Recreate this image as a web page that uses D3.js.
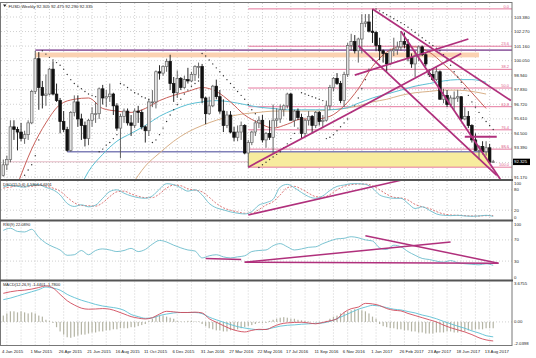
<!DOCTYPE html>
<html><head><meta charset="utf-8">
<script src="https://cdn.jsdelivr.net/npm/d3@7"></script>
<style>body{margin:0;background:#fff}svg{display:block}text{font-family:"Liberation Sans",Arial,sans-serif}</style>
</head><body><svg id="c" width="536" height="358"></svg>
<script>
// ---------------- DATA ----------------
const title = "FUSD,Weekly  92.305 92.475 92.290 92.335";
const openP = [91.3,92.1,92.5,95.0,94.8,94.6,94.1,94.4,95.3,97.7,
100.2,98.0,97.4,97.5,99.4,97.5,97.0,95.4,94.8,93.2,
96.1,96.9,95.6,95.1,94.1,95.5,96.0,96.0,97.9,97.2,
97.3,97.5,96.6,94.9,95.8,96.2,95.3,95.1,96.2,96.1,
95.0,94.7,96.9,96.9,99.2,99.1,99.6,100.0,98.3,97.6,
98.7,98.0,98.6,98.5,99.0,99.6,99.6,97.2,96.0,96.6,
98.1,97.3,96.2,95.1,95.9,94.6,94.2,94.6,95.1,93.0,
93.8,94.6,95.3,95.5,94.0,94.5,94.2,95.5,95.6,96.3,
96.6,97.5,95.5,96.2,95.7,94.5,95.5,95.8,95.1,96.1,
95.4,95.5,96.6,98.0,98.7,98.3,97.0,99.0,101.2,101.5,
100.8,101.7,102.9,103.0,102.3,102.2,101.2,100.8,100.6,99.8,
100.8,100.9,101.1,101.5,101.3,100.3,99.8,100.4,101.1,100.5,
99.1,99.0,98.6,99.2,97.1,97.4,96.7,97.2,97.2,97.3,
95.6,95.8,95.1,94.0,93.2,93.5,93.1,93.4,92.305];
const highP = [92.5,92.8,95.5,95.5,95.0,95.3,94.7,95.5,97.8,100.8,
100.7,98.5,99.0,99.5,100.0,98.3,97.2,96.2,95.0,96.2,
97.4,97.4,96.0,95.4,95.6,96.5,96.9,98.0,98.2,97.8,
98.3,97.6,96.8,96.0,96.4,96.4,95.9,96.4,96.6,96.3,
95.1,97.1,97.8,99.3,99.7,99.7,100.2,100.5,98.8,99.3,
98.8,98.9,99.5,99.2,99.7,99.9,99.8,97.3,97.3,98.2,
98.6,97.8,97.1,96.2,96.2,95.0,95.1,95.4,95.2,94.0,
94.7,95.5,95.8,95.9,94.6,95.5,96.7,96.4,96.7,96.7,
97.6,97.6,96.3,96.4,96.0,95.6,96.2,95.9,96.2,96.2,
95.9,97.0,98.2,98.8,99.1,98.5,99.2,101.4,102.1,102.0,
101.8,103.6,103.6,103.6,104.0,102.3,101.8,100.9,100.6,100.9,
101.8,101.5,102.3,102.2,101.7,100.6,100.8,101.2,101.2,100.7,
99.4,99.4,99.6,99.3,97.9,97.8,97.4,97.7,97.8,97.3,
96.5,96.2,95.2,94.5,93.6,93.9,93.9,93.7,92.475];
const lowP = [91.2,91.7,92.3,94.0,93.2,93.9,93.7,94.0,95.2,97.5,
96.3,96.4,96.6,97.4,97.4,96.9,94.5,94.6,93.1,93.1,
95.8,95.0,94.0,93.5,93.6,95.0,95.3,95.6,96.7,96.5,
96.9,95.9,94.7,92.6,95.3,95.1,94.3,94.9,95.3,94.8,
93.8,94.3,96.5,96.4,98.6,98.9,99.2,97.8,96.9,97.2,
97.8,97.9,98.3,98.4,98.5,98.7,96.8,95.2,95.9,96.5,
97.1,96.0,94.6,94.9,94.5,93.9,93.9,94.0,92.9,91.9,
93.6,94.3,94.9,93.8,93.4,94.0,93.0,95.0,95.3,95.8,
96.4,95.5,95.0,95.5,94.1,94.2,95.1,94.5,94.9,95.1,
94.9,95.4,96.3,97.7,98.2,96.8,96.5,98.8,100.8,100.6,
99.9,100.6,102.6,102.2,101.4,100.8,100.1,99.9,99.2,99.7,
100.4,100.5,100.8,101.0,100.0,99.5,98.8,100.0,100.4,99.6,
98.8,98.5,98.5,97.1,96.8,96.5,96.5,96.3,96.9,95.5,
95.5,94.9,93.8,93.2,92.5,92.9,92.8,92.3,92.29];
const closeP = [92.1,92.5,95.0,94.8,94.6,94.1,94.4,95.3,97.7,100.2,
98.0,97.4,97.5,99.4,97.5,97.0,95.4,94.8,93.2,96.1,
96.9,95.6,95.1,94.1,95.5,96.0,96.0,97.9,97.2,97.3,
97.5,96.6,94.9,95.8,96.2,95.3,95.1,96.2,96.1,95.0,
94.7,96.9,96.9,99.2,99.1,99.6,100.0,98.3,97.6,98.7,
98.0,98.6,98.5,99.0,99.6,99.6,97.2,96.0,96.6,98.1,
97.3,96.2,95.1,95.9,94.6,94.2,94.6,95.1,93.0,93.8,
94.6,95.3,95.5,94.0,94.5,94.2,95.5,95.6,96.3,96.6,
97.5,95.5,96.2,95.7,94.5,95.5,95.8,95.1,96.1,95.4,
95.5,96.6,98.0,98.7,98.3,97.0,99.0,101.2,101.5,100.8,
101.7,102.9,103.0,102.3,102.2,101.2,100.8,100.6,99.8,100.8,
100.9,101.1,101.5,101.3,100.3,99.8,100.4,101.1,100.5,99.8,
99.0,98.6,99.2,97.1,97.4,96.7,97.2,97.2,97.3,95.6,
95.8,95.1,94.0,93.2,93.5,93.1,93.4,92.3,92.335];
// parabolic SAR dots (one per week)
const sar = [88.5,88.9,89.3,89.9,90.4,90.9,91.3,91.7,92.1,92.8,94.0,
100.8,100.55,100.3,100.1,99.9,99.7,99.4,99.0,98.6,98.3,98.1,97.9,97.7,97.5,97.4,97.3,
93.1,93.3,93.6,93.8,94.1,94.4,
98.3,98.2,98.0,97.8,97.6,97.5,97.3,97.2,97.1,
93.8,94.0,94.4,94.9,95.4,95.9,96.3,96.7,97.1,97.5,97.8,98.1,98.3,98.5,
100.6,100.4,100.1,99.8,99.5,99.2,98.9,98.6,98.3,98.0,97.7,97.4,97.1,96.7,96.3,96.0,
91.9,92.1,92.3,92.5,92.7,92.9,93.1,93.4,93.7,94.1,94.5,94.9,
97.6,97.5,97.4,97.3,97.2,97.1,97.0,
94.1,94.2,94.4,94.7,95.0,95.3,95.6,96.1,96.6,97.2,97.9,98.6,99.4,100.1,
104.0,103.85,103.7,103.55,103.4,103.25,103.1,102.95,102.8,102.6,102.4,102.2,102.0,101.8,101.6,
101.4,101.2,101.0,100.8,100.5,100.1,99.7,99.2,98.8,98.4,97.9,97.4,96.9,96.5,96.1,95.7,95.4,95.1,94.8];
// moving averages, one value every 4 weeks
const maRed  = [87.5,90.6,93.3,95.3,96.7,97.1,97.2,96.4,96.2,96.1,96.4,97.0,97.4,97.7,98.0,97.7,96.9,95.9,95.3,94.9,95.2,95.6,95.6,95.8,96.6,97.9,99.6,100.7,101.1,101.1,100.7,99.8,98.8,97.6,96.4];
const maCyan = [82,84,85.5,87,88.3,89.5,91.6,92.9,93.9,94.5,95.1,95.8,96.3,96.7,96.9,97.0,96.9,96.7,96.5,96.4,96.3,96.3,96.3,96.3,96.4,96.8,97.2,97.5,97.8,98.1,98.3,98.5,98.6,98.6,98.4];
const maTan  = [80,81,82,83,84,85,86,87.5,89,90.5,92.0,93.0,93.9,94.6,95.1,95.5,95.8,96.0,96.1,96.2,96.2,96.2,96.2,96.3,96.4,96.6,96.9,97.1,97.4,97.6,97.7,97.8,97.8,97.7,97.5];
// oscillators, one value every 2 weeks
const stochK = [88,93,90,88,94,95,87,80,65,40,31,36,30,35,55,75,80,70,62,57,55,62,82,98,95,86,76,80,65,40,27,21,15,11,9,16,35,42,52,88,96,86,72,60,55,62,78,90,94,98,98,96,85,65,58,55,55,40,25,30,20,9,5,4,5,3,2,3,5,2];
const stochD = [85,88,91,89,90,93,91,85,76,58,42,34,33,32,42,60,74,76,68,61,57,57,68,85,94,92,83,79,74,58,40,27,20,15,11,11,22,35,45,65,86,90,82,70,60,58,66,80,90,95,97,97,92,80,67,58,56,50,37,30,25,16,9,6,5,4,3,3,4,4];
const rsi = [88,92,86,85,90,75,64,57,51,41,42,50,42,50,53,51,48,50,54,48,52,62,69,66,60,55,51,49,36,40,42,38,36,38,40,48,50,51,59,63,57,51,53,56,57,63,68,72,73,76,74,70,68,55,52,60,57,48,41,35,33,30,28,31,27,25,24,23,25,22];
const macdMain = [2.7,2.85,2.95,3.0,3.1,3.25,3.4,3.2,2.6,2.0,1.6,1.3,1.2,1.22,1.26,1.2,1.0,0.75,0.5,0.36,0.28,0.4,0.74,1.0,0.95,0.89,0.89,0.92,0.85,0.3,-0.03,-0.35,-0.65,-0.85,-0.95,-0.8,-0.7,-0.72,-0.45,-0.2,-0.09,-0.05,-0.03,-0.1,-0.18,-0.05,0.1,0.3,0.9,1.25,1.4,1.75,1.7,1.55,1.26,1.1,1.04,0.8,0.6,0.4,0.2,0.0,-0.3,-0.55,-0.75,-0.95,-1.2,-1.5,-1.7,-1.8];
const macdSignal = [2.1,2.25,2.45,2.65,2.85,3.05,3.3,3.2,3.0,2.6,2.3,2.05,1.85,1.65,1.5,1.4,1.3,1.1,0.7,0.5,0.34,0.38,0.6,0.74,0.85,0.89,0.89,0.89,0.78,0.45,0.2,-0.03,-0.25,-0.45,-0.58,-0.68,-0.74,-0.7,-0.55,-0.4,-0.32,-0.28,-0.22,-0.18,-0.14,-0.1,0.05,0.3,0.6,0.9,1.2,1.4,1.56,1.5,1.35,1.2,1.13,0.98,0.85,0.65,0.5,0.3,0.05,-0.18,-0.4,-0.6,-0.85,-1.05,-1.3,-1.41];
const macdHist = [0.6,0.8,1.0,1.0,0.9,1.0,0.9,0.8,0.9,0.8,0.6,0.5,
0.2,0.1,-0.1,
-0.5,-0.9,-1.2,-1.45,-1.5,-1.4,-1.3,-1.2,-1.2,-1.1,-1.0,
-1.0,-0.9,-0.9,-0.8,-0.8,-0.7,-0.7,-0.6,-0.6,-0.6,-0.5,-0.5,-0.4,-0.3,-0.2,
0.1,0.3,0.5,0.6,0.6,0.5,0.4,0.3,
0.1,0.05,0.05,0.1,0.1,0.05,0.05,-0.2,
-0.4,-0.6,-0.7,-0.8,-0.8,-0.9,-0.9,-0.8,-0.8,-0.7,-0.6,-0.5,-0.4,-0.3,-0.2,-0.1,-0.1,-0.1,
0.1,0.2,0.3,0.4,0.45,0.4,0.3,0.3,0.2,0.15,0.1,0.05,
0,-0.05,-0.05,0,0.1,
0.3,0.5,0.6,0.8,0.9,1.0,1.1,1.2,1.2,1.1,1.0,0.8,0.5,0.3,
-0.2,-0.4,-0.5,-0.6,-0.6,-0.7,-0.7,-0.8,-0.8,-0.9,-0.9,-1.0,-1.0,-1.1,-1.1,-1.1,-1.0,-1.0,-1.0,-0.9,-0.9,-1.0,-1.0,-0.9,-0.9,-0.8,-0.8,-0.7,-0.7,-0.7,-0.6,-0.6,-0.6];
// axis labels
const dateLabels = ["4 Jan 2015","1 Mar 2015","26 Apr 2015","21 Jun 2015","16 Aug 2015","11 Oct 2015","6 Dec 2015","31 Jan 2016","27 Mar 2016","22 May 2016","17 Jul 2016","11 Sep 2016","6 Nov 2016","1 Jan 2017","26 Feb 2017","23 Apr 2017","18 Jun 2017","13 Aug 2017"];
const priceTicks = [103.38,102.27,101.16,100.05,98.94,97.83,96.72,95.61,94.50,93.39,91.17];
const lastPrice = 92.325;
const stochTicks = [100,80,20,0], rsiTicks = [100,70,30,0], macdTicks = [3.6755,0,-2.0398];
const stochLabel = "DSO(15,5,6) 4.5304 6.6911", rsiLabel = "RSI(9) 22.0890", macdLabel = "MACD(12,26,9) -1.4401 -1.7800";
// drawn objects (week index, price)
const fibLevels = [0,23.6,38.2,50,61.8,76.4,88.6,100];
const fibHigh = 104.0, fibLow = 91.92, fibStartWeek = 69;
const resHigh = 100.85, resWeek = 9;
const bandTop = 100.67, bandBottom = 100.30, bandEndWeek = 134;
const supLevel = 93.10, supWeek = 18;
const zoneTop = 93.10, zoneBottom = 91.92, zoneEndWeek = 137;
const trendW1 = [69, 99, 104, 100, 112, 130], trendP1 = [91.92, 98.95, 104.0, 101.2, 102.3, 94.24];
const trendW2 = [129, 131, 143, 139, 140, 139], trendP2 = [100.6, 101.7, 97.0, 91.3, 91.0, 94.24];
const stochTrendW = [69, 112], stochTrendV = [6, 108];
const rsiTrendW1 = [57, 68, 102, 68], rsiTrendV1 = [35, 28, 78, 28];
const rsiTrendW2 = [67, 126, 139.5, 139.5], rsiTrendV2 = [33, 66, 26, 26];

// ---------------- SCALES ----------------
const svg = d3.select("#c");
const R = 512, FS = 4.3;
const x = d3.scaleLinear().domain([0, 138]).range([3.3, 493.2]);
const yP = d3.scaleLinear().domain([91.17, 103.38]).range([177, 17]);
const yS = d3.scaleLinear().domain([0, 100]).range([217, 183]);
const yR = d3.scaleLinear().domain([0, 100]).range([277, 224]);
const yM = d3.scaleLinear().domain([-2.0398, 3.6755]).range([343.5, 283]);
const panels = [[3,179],[181,219.5],[221.5,279.5],[281.5,345]];

const defs = svg.append("defs");
panels.forEach((p,i)=>defs.append("clipPath").attr("id","cp"+i).append("rect")
  .attr("x",1).attr("y",p[0]).attr("width",R-1).attr("height",p[1]-p[0]));
const g = panels.map((p,i)=>svg.append("g").attr("clip-path",`url(#cp${i})`));

// grid
const gridWeeks = d3.range(1, 139, 4);
panels.forEach((p,i)=>{
  g[i].selectAll(null).data(gridWeeks).join("line")
    .attr("x1",d=>x(d)).attr("x2",d=>x(d)).attr("y1",p[0]).attr("y2",p[1])
    .attr("stroke","#c4c4c4").attr("stroke-width",0.8).attr("stroke-dasharray","1,2");
});
const hgrid = (gi, ys) => g[gi].selectAll(null).data(ys).join("line")
  .attr("x1",1).attr("x2",R).attr("y1",d=>d).attr("y2",d=>d)
  .attr("stroke","#c4c4c4").attr("stroke-width",0.8).attr("stroke-dasharray","1,2");
hgrid(0, priceTicks.map(yP).concat([yP(92.28)]));
hgrid(1, [80,20].map(yS));
hgrid(2, [70,30].map(yR));
hgrid(3, [yM(0)]);

// ---------------- MAIN PANEL ----------------
const m = g[0];
m.append("rect").attr("x",x(fibStartWeek)).attr("width",x(zoneEndWeek)-x(fibStartWeek))
  .attr("y",yP(zoneTop)).attr("height",yP(zoneBottom)-yP(zoneTop)).attr("fill","#f7ec9e");
m.append("rect").attr("x",x(resWeek)).attr("width",x(bandEndWeek)-x(resWeek))
  .attr("y",yP(bandTop)).attr("height",yP(bandBottom)-yP(bandTop)).attr("fill","#fbd2b2");
m.append("line").attr("x1",x(resWeek)).attr("x2",R).attr("y1",yP(resHigh)).attr("y2",yP(resHigh))
  .attr("stroke","#9a6aa8").attr("stroke-width",1.6);
m.append("line").attr("x1",x(supWeek)).attr("x2",x(zoneEndWeek)).attr("y1",yP(supLevel)).attr("y2",yP(supLevel))
  .attr("stroke","#8080b8").attr("stroke-width",1.4);
m.append("line").attr("x1",x(1)).attr("x2",x(fibStartWeek)).attr("y1",yP(92.33)).attr("y2",yP(92.33))
  .attr("stroke","#e4b8c4").attr("stroke-width",1);
const fibPrice = fibLevels.map(l=>fibHigh - l/100*(fibHigh-fibLow));
m.selectAll(null).data(fibPrice).join("line")
  .attr("x1",x(fibStartWeek)).attr("x2",R).attr("y1",d=>yP(d)).attr("y2",d=>yP(d))
  .attr("stroke","#e6789e").attr("stroke-width",1);
m.selectAll(null).data(fibLevels).join("text")
  .attr("x",R-3).attr("y",(d,i)=>yP(fibPrice[i])-1).attr("text-anchor","end")
  .attr("font-size",4).attr("fill","#e0608a").text(d=>d.toFixed(1));

const ma = (arr,col)=>m.append("path").datum(arr).attr("fill","none").attr("stroke",col).attr("stroke-width",1)
  .attr("d",d3.line().x((d,i)=>x(i*4)).y(d=>yP(d)).curve(d3.curveMonotoneX));
ma(maTan,"#d8b088"); ma(maCyan,"#5cc0d4"); ma(maRed,"#c8605a");

const idx = d3.range(openP.length);
m.selectAll(null).data(idx).join("line")
  .attr("x1",i=>x(i)).attr("x2",i=>x(i)).attr("y1",i=>yP(highP[i])).attr("y2",i=>yP(lowP[i]))
  .attr("stroke",i=>closeP[i]>=openP[i]?"#555":"#111").attr("stroke-width",0.9);
m.selectAll(null).data(idx).join("rect")
  .attr("x",i=>x(i)-1.3).attr("width",2.6)
  .attr("y",i=>yP(Math.max(openP[i],closeP[i])))
  .attr("height",i=>Math.max(0.8,Math.abs(yP(openP[i])-yP(closeP[i]))))
  .attr("fill",i=>closeP[i]>=openP[i]?"#e2e2e2":"#111")
  .attr("stroke",i=>closeP[i]>=openP[i]?"#666":"#111").attr("stroke-width",0.7);
m.selectAll(null).data(idx).join("circle")
  .attr("cx",i=>x(i)).attr("cy",i=>yP(sar[i])).attr("r",0.7).attr("fill","#333");
m.selectAll(null).data(d3.range(trendW1.length)).join("line")
  .attr("x1",i=>x(trendW1[i])).attr("y1",i=>yP(trendP1[i]))
  .attr("x2",i=>x(trendW2[i])).attr("y2",i=>yP(trendP2[i]))
  .attr("stroke","#b0307c").attr("stroke-width",1.8);

// ---------------- STOCH ----------------
const osc = (gg, arr, ys, col, dash) => gg.append("path").datum(arr).attr("fill","none")
  .attr("stroke",col).attr("stroke-width",0.9).attr("stroke-dasharray",dash||null)
  .attr("d",d3.line().x((d,i)=>x(i*2)).y(d=>ys(d)).curve(d3.curveMonotoneX));
osc(g[1], stochD, yS, "#d86868", "2,1.5");
osc(g[1], stochK, yS, "#6cbccc");
g[1].append("line").attr("x1",x(stochTrendW[0])).attr("y1",yS(stochTrendV[0]))
  .attr("x2",x(stochTrendW[1])).attr("y2",yS(stochTrendV[1])).attr("stroke","#b0307c").attr("stroke-width",1.6);

// ---------------- RSI ----------------
osc(g[2], rsi, yR, "#6cbccc");
g[2].selectAll(null).data(d3.range(rsiTrendW1.length)).join("line")
  .attr("x1",i=>x(rsiTrendW1[i])).attr("y1",i=>yR(rsiTrendV1[i]))
  .attr("x2",i=>x(rsiTrendW2[i])).attr("y2",i=>yR(rsiTrendV2[i]))
  .attr("stroke","#b0307c").attr("stroke-width",1.5);

// ---------------- MACD ----------------
g[3].selectAll(null).data(idx).join("rect")
  .attr("x",i=>x(i)-0.6).attr("width",1.2)
  .attr("y",i=>Math.min(yM(0),yM(macdHist[i]))).attr("height",i=>Math.abs(yM(macdHist[i])-yM(0)))
  .attr("fill","#b4b4a4");
osc(g[3], macdSignal, yM, "#5cc0d4");
osc(g[3], macdMain, yM, "#d04a5a");

// ---------------- FRAME & LABELS ----------------
svg.append("rect").attr("x",0.5).attr("y",2.5).attr("width",R-0.5).attr("height",343).attr("fill","none").attr("stroke","#777").attr("stroke-width",1);
[180, 220.5, 280.5].forEach(yy=>svg.append("line").attr("x1",0).attr("x2",R+1).attr("y1",yy).attr("y2",yy).attr("stroke","#555").attr("stroke-width",2));

const lab = (y, t) => svg.append("text").attr("x",R+2).attr("y",y).attr("dy","0.35em").attr("font-size",FS).attr("fill","#222").text(t);
priceTicks.forEach(p=>lab(yP(p), p.toFixed(3)));
svg.append("rect").attr("x",R+1).attr("y",yP(lastPrice)-3.2).attr("width",17).attr("height",6.4).attr("fill","#000");
svg.append("text").attr("x",R+2).attr("y",yP(lastPrice)).attr("dy","0.35em").attr("font-size",FS).attr("fill","#fff").text(lastPrice.toFixed(3));
stochTicks.forEach(v=>lab(yS(v), v));
rsiTicks.forEach(v=>lab(yR(v), v));
macdTicks.forEach(v=>lab(yM(v), v===0?"0.00":String(v)));

svg.selectAll(null).data(dateLabels).join("text")
  .attr("x",(d,i)=>x(i*8)-1.3).attr("y",351).attr("dy","0.35em").attr("font-size",FS).attr("fill","#222").text(d=>d);

svg.append("path").attr("d","M3,4.5 L6.5,4.5 L4.75,7 Z").attr("fill","#222");
svg.append("text").attr("x",8.5).attr("y",6).attr("dy","0.35em").attr("font-size",FS).attr("fill","#222").text(title);
svg.append("text").attr("x",3).attr("y",184.5).attr("dy","0.35em").attr("font-size",4).attr("fill","#222").text(stochLabel);
svg.append("text").attr("x",3).attr("y",225).attr("dy","0.35em").attr("font-size",4).attr("fill","#222").text(rsiLabel);
svg.append("text").attr("x",3).attr("y",285).attr("dy","0.35em").attr("font-size",4).attr("fill","#222").text(macdLabel);
</script></body></html>
